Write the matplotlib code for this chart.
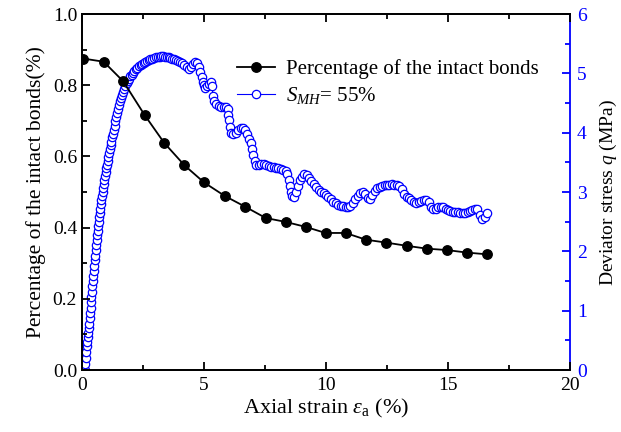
import matplotlib
matplotlib.use("Agg")
import matplotlib.pyplot as plt
from matplotlib.ticker import MultipleLocator

plt.rcParams['font.family'] = ['Liberation Serif', 'DejaVu Serif']
plt.rcParams['mathtext.fontset'] = 'custom'
plt.rcParams['mathtext.rm'] = 'Liberation Serif'
plt.rcParams['mathtext.it'] = 'Liberation Serif:italic'

# percentage of intact bonds (left axis)
bond_strain = [0.05, 0.89, 1.69, 2.57, 3.37, 4.20, 5.00, 5.85, 6.68, 7.53, 8.35,
               9.17, 9.98, 10.80, 11.64, 12.46, 13.30, 14.12, 14.95, 15.76, 16.59]
bond_pct = [0.875, 0.866, 0.811, 0.716, 0.638, 0.575, 0.527, 0.489, 0.459, 0.427, 0.416,
            0.402, 0.385, 0.385, 0.366, 0.358, 0.349, 0.341, 0.337, 0.330, 0.325]

# deviator stress, S_MH = 55% (right axis)
q_strain = [0.11, 0.13, 0.15, 0.17, 0.19, 0.21, 0.23, 0.25, 0.27, 0.29,
            0.31, 0.33, 0.35, 0.37, 0.39, 0.41, 0.43, 0.45, 0.47, 0.49, 0.51, 0.53,
            0.55, 0.57, 0.59, 0.61, 0.63, 0.65, 0.67, 0.69, 0.71, 0.73, 0.75, 0.77,
            0.80, 0.82, 0.85, 0.87, 0.90, 0.92, 0.95, 0.97, 1.00, 1.02, 1.05, 1.08,
            1.11, 1.14, 1.17, 1.20, 1.23, 1.27, 1.30, 1.34, 1.37, 1.40, 1.44, 1.47,
            1.51, 1.55, 1.59, 1.64, 1.68, 1.73, 1.78, 1.83, 1.88, 1.93, 1.98, 2.04,
            2.10, 2.15, 2.21, 2.27, 2.33, 2.40, 2.47, 2.53, 2.60, 2.66, 2.73, 2.80,
            2.88, 2.95, 3.02, 3.10, 3.18, 3.25, 3.32, 3.40, 3.48, 3.55, 3.62, 3.70,
            3.78, 3.85, 3.92, 4.00, 4.10, 4.20, 4.30, 4.38, 4.45, 4.55, 4.65, 4.72,
            4.78, 4.84, 4.90, 4.95, 5.00, 5.05, 5.12, 5.20, 5.28, 5.33, 5.37, 5.42,
            5.50, 5.60, 5.70, 5.80, 5.90, 5.98, 6.00, 6.03, 6.07, 6.12, 6.20, 6.30,
            6.40, 6.50, 6.60, 6.70, 6.78, 6.85, 6.92, 6.97, 7.02, 7.08, 7.15, 7.25,
            7.35, 7.45, 7.55, 7.65, 7.75, 7.85, 7.95, 8.05, 8.15, 8.25, 8.35, 8.42,
            8.48, 8.52, 8.57, 8.62, 8.70, 8.78, 8.85, 8.93, 9.00, 9.10, 9.20, 9.30,
            9.40, 9.50, 9.60, 9.70, 9.80, 9.90, 10.00, 10.10, 10.20, 10.30, 10.40, 10.50,
            10.60, 10.70, 10.80, 10.90, 11.00, 11.10, 11.20, 11.30, 11.40, 11.50, 11.60, 11.70,
            11.80, 11.90, 12.00, 12.10, 12.20, 12.30, 12.40, 12.50, 12.60, 12.70, 12.80, 12.90,
            13.00, 13.10, 13.20, 13.30, 13.40, 13.50, 13.60, 13.70, 13.80, 13.90, 14.00, 14.10,
            14.20, 14.30, 14.40, 14.50, 14.60, 14.70, 14.80, 14.90, 15.00, 15.10, 15.20, 15.30,
            15.40, 15.50, 15.60, 15.70, 15.80, 15.90, 16.00, 16.10, 16.20, 16.30, 16.40, 16.50,
            16.60]
q_mpa = [0.00, 0.10, 0.20, 0.30, 0.40, 0.48, 0.55, 0.62, 0.70, 0.78,
         0.87, 0.96, 1.05, 1.14, 1.23, 1.32, 1.41, 1.50, 1.58, 1.67, 1.76, 1.85,
         1.93, 2.02, 2.10, 2.19, 2.27, 2.35, 2.43, 2.50, 2.58, 2.65, 2.72, 2.79,
         2.86, 2.93, 3.00, 3.07, 3.14, 3.20, 3.27, 3.33, 3.40, 3.46, 3.53, 3.59,
         3.66, 3.72, 3.79, 3.85, 3.92, 3.98, 4.05, 4.12, 4.20, 4.27, 4.34, 4.40,
         4.47, 4.53, 4.59, 4.64, 4.69, 4.74, 4.79, 4.83, 4.87, 4.91, 4.95, 4.98,
         5.01, 5.04, 5.07, 5.09, 5.12, 5.14, 5.16, 5.18, 5.20, 5.21, 5.23, 5.24,
         5.25, 5.26, 5.27, 5.28, 5.28, 5.29, 5.29, 5.28, 5.28, 5.27, 5.26, 5.25,
         5.24, 5.22, 5.21, 5.20, 5.17, 5.14, 5.10, 5.07, 5.10, 5.15, 5.19, 5.18,
         5.11, 5.02, 4.94, 4.86, 4.80, 4.75, 4.78, 4.82, 4.85, 4.78, 4.62, 4.53,
         4.48, 4.45, 4.44, 4.43, 4.43, 4.40, 4.30, 4.22, 4.10, 4.00, 3.97, 4.00,
         4.05, 4.08, 4.08, 4.05, 3.98, 3.90, 3.82, 3.72, 3.62, 3.52, 3.45, 3.46,
         3.48, 3.47, 3.46, 3.44, 3.43, 3.42, 3.41, 3.40, 3.39, 3.37, 3.35, 3.30,
         3.20, 3.10, 3.00, 2.93, 2.92, 3.00, 3.10, 3.20, 3.26, 3.30, 3.29, 3.24,
         3.18, 3.13, 3.08, 3.03, 3.00, 2.98, 2.95, 2.92, 2.88, 2.84, 2.81, 2.78,
         2.77, 2.76, 2.75, 2.75, 2.77, 2.82, 2.88, 2.94, 2.98, 3.00, 2.96, 2.90,
         2.88, 2.95, 3.02, 3.07, 3.09, 3.10, 3.11, 3.12, 3.12, 3.13, 3.12, 3.11,
         3.10, 3.05, 2.97, 2.92, 2.90, 2.87, 2.84, 2.82, 2.83, 2.85, 2.86, 2.87,
         2.84, 2.75, 2.71, 2.72, 2.74, 2.75, 2.75, 2.72, 2.70, 2.68, 2.67, 2.66,
         2.66, 2.65, 2.65, 2.65, 2.66, 2.68, 2.70, 2.72, 2.72, 2.62, 2.55, 2.58,
         2.64]

blue = '#0000ff'

fig = plt.figure(figsize=(6.21, 4.32), dpi=100)
ax = fig.add_axes([0.132, 0.1435, 0.786, 0.824])
ax2 = ax.twinx()

l1, = ax.plot(bond_strain, bond_pct, '-o', color='black', lw=1.3, ms=6.8,
              label='Percentage of the intact bonds', zorder=3)
l2, = ax2.plot(q_strain, q_mpa, '-o', color=blue, lw=0.8, ms=6, mfc='white',
               mec=blue, mew=0.9, label=r'$S_{MH}$= 55%')
ax.set_zorder(ax2.get_zorder() + 1)
ax.patch.set_visible(False)

ax.set_xlim(0, 20)
ax.set_ylim(0, 1.0)
ax2.set_ylim(0, 6)
ax.xaxis.set_major_locator(MultipleLocator(5))
ax.xaxis.set_minor_locator(MultipleLocator(2.5))
ax.yaxis.set_major_locator(MultipleLocator(0.2))
ax.yaxis.set_minor_locator(MultipleLocator(0.1))
ax2.yaxis.set_major_locator(MultipleLocator(1))
ax2.yaxis.set_minor_locator(MultipleLocator(0.5))
ax.yaxis.set_major_formatter(plt.FormatStrFormatter('%.1f'))

ax.tick_params(which='both', direction='in', top=True, right=False, labelsize=14, width=1.3)
ax.tick_params(which='major', length=6)
ax.tick_params(which='minor', length=3.5)
ax.tick_params(axis='x', pad=5)
ax2.tick_params(which='both', direction='in', colors=blue, labelsize=14, width=1.3)
ax2.tick_params(which='major', length=6, pad=5)
ax2.tick_params(which='minor', length=3.5)

for s in ax.spines.values():
    s.set_linewidth(1.3)
for s in ax2.spines.values():
    s.set_linewidth(1.3)
ax2.spines['right'].set_color(blue)
ax.spines['right'].set_visible(False)

ax.set_xlabel(r'Axial strain $\varepsilon_{\mathrm{a}}$ (%)', fontsize=16, labelpad=2)
ax.set_ylabel('Percentage of the intact bonds(%)', fontsize=15.5, labelpad=5)
ax2.set_ylabel(r'Deviator stress $q$ (MPa)', fontsize=14, labelpad=8)

ax.legend([l1, l2], [l1.get_label(), l2.get_label()], loc='upper left',
          bbox_to_anchor=(0.3, 0.897), frameon=False, fontsize=15,
          handlelength=1.85, handletextpad=0.5, labelspacing=0.3, borderaxespad=0)

fig.savefig('out.png', dpi=100)
